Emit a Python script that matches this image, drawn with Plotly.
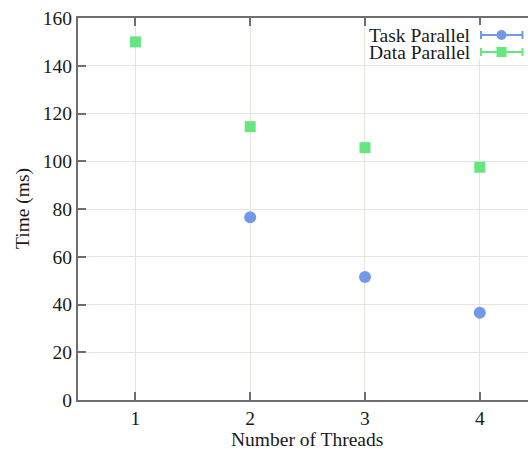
import plotly.graph_objects as go

threads_task = [2, 3, 4]
time_task = [76.5, 51.5, 36.5]
threads_data = [1, 2, 3, 4]
time_data = [150.0, 114.5, 105.7, 97.5]
x_ticks = [1, 2, 3, 4]
y_ticks = [0, 20, 40, 60, 80, 100, 120, 140, 160]
series_names = ["Task Parallel", "Data Parallel"]

BLUE = "#7199e8"
GREEN = "#66e67f"
FONT = "Liberation Serif, Times New Roman, serif"
TXT = "#1a1a1a"
AX = "#6e6e6e"
GRID = "#e2e8d6"

W, H = 528, 450
ML, MR, MT, MB = 78, 0, 18, 50
PW, PH = W - ML - MR, H - MT - MB


def px(x):
    return (x - ML) / PW


def py(y):
    return (H - MB - y) / PH


fig = go.Figure()
fig.add_trace(go.Scatter(x=threads_task, y=time_task, mode="markers", name=series_names[0],
                         marker=dict(symbol="circle", size=12, color=BLUE), showlegend=False))
fig.add_trace(go.Scatter(x=threads_data, y=time_data, mode="markers", name=series_names[1],
                         marker=dict(symbol="square", size=11, color=GREEN), showlegend=False))

shapes = []
annotations = []
# legend background
shapes.append(dict(type="rect", xref="paper", yref="paper", x0=px(367), x1=1.0, y0=py(59), y1=py(25),
                   fillcolor="white", line=dict(width=0), layer="above"))
legend_rows = [(series_names[0], BLUE, "circle", 35), (series_names[1], GREEN, "square", 52)]
for name, col, sym, ly in legend_rows:
    yy = py(ly)
    shapes.append(dict(type="line", xref="paper", yref="paper", x0=px(481), x1=px(522.5), y0=yy, y1=yy,
                       line=dict(color=col, width=2), layer="above"))
    for cx in (481, 522.5):
        shapes.append(dict(type="line", xref="paper", yref="paper", xsizemode="pixel", ysizemode="pixel",
                           xanchor=px(cx), yanchor=yy, x0=0, x1=0, y0=-4, y1=4,
                           line=dict(color=col, width=2), layer="above"))
    shapes.append(dict(type="circle" if sym == "circle" else "rect", xref="paper", yref="paper",
                       xsizemode="pixel", ysizemode="pixel", xanchor=px(501.5), yanchor=yy,
                       x0=-5, x1=5, y0=-5, y1=5, fillcolor=col, line=dict(width=0), layer="above"))
    annotations.append(dict(text=name, xref="paper", yref="paper", x=px(473), y=yy, xanchor="right",
                            yanchor="middle", showarrow=False, height=16, valign="middle",
                            font=dict(family=FONT, size=19.5, color=TXT)))

annotations.append(dict(text="Number of Threads", xref="paper", yref="paper", x=px(306.5), y=py(440),
                        xanchor="center", yanchor="middle", showarrow=False,
                        font=dict(family=FONT, size=19.5, color=TXT)))
annotations.append(dict(text="Time (ms)", xref="paper", yref="paper", x=px(23), y=0.5, textangle=-90,
                        xanchor="center", yanchor="middle", showarrow=False,
                        font=dict(family=FONT, size=19.5, color=TXT)))

fig.update_layout(
    width=W, height=H,
    margin=dict(l=ML, r=MR, t=MT, b=MB, pad=0),
    plot_bgcolor="white", paper_bgcolor="white",
    font=dict(family=FONT, size=19.5, color=TXT),
    shapes=shapes, annotations=annotations,
    showlegend=False,
)
fig.update_xaxes(range=[0.5, 4.42], tickvals=x_ticks, ticktext=[str(v) for v in x_ticks],
                 showgrid=True, gridcolor=GRID, gridwidth=1, zeroline=False,
                 showline=True, linecolor=AX, linewidth=2, mirror="ticks",
                 ticks="inside", ticklen=8, tickwidth=2, tickcolor=AX)
fig.update_yaxes(range=[0, 160], tickvals=y_ticks, ticktext=[str(v) for v in y_ticks],
                 showgrid=True, gridcolor=GRID, gridwidth=1, zeroline=False,
                 showline=True, linecolor=AX, linewidth=2, mirror=False,
                 ticks="inside", ticklen=8, tickwidth=2, tickcolor=AX)

fig.write_html("out.html")
